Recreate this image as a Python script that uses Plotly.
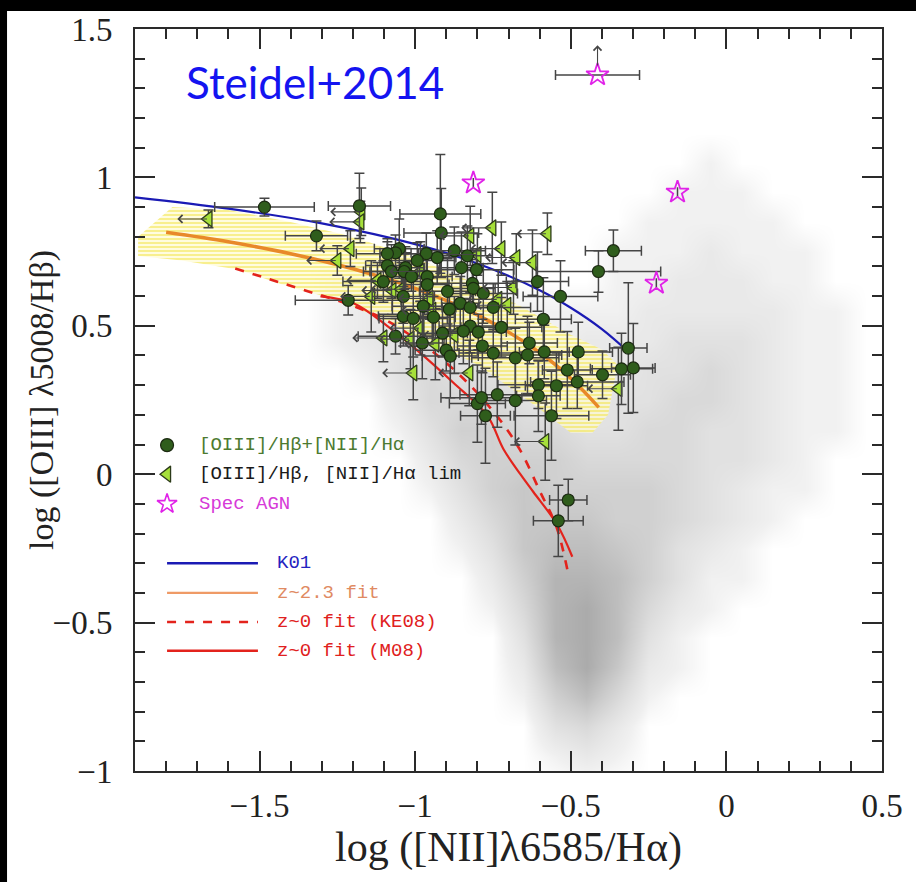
import plotly.graph_objects as go

# ---------------- data ----------------
# SDSS comparison sample, local point density on a 0.1-dex grid (cell centres)
SDSS_X = [-1.35, -1.25, -1.15, -1.05, -0.95, -0.85, -0.75, -0.65, -0.55, -0.45,
          -0.35, -0.25, -0.15, -0.05, 0.05, 0.15, 0.25, 0.35, 0.45, 0.55]
SDSS_Y = [-1.05, -0.95, -0.85, -0.75, -0.65, -0.55, -0.45, -0.35, -0.25, -0.15, -0.05,
          0.05, 0.15, 0.25, 0.35, 0.45, 0.55, 0.65, 0.75, 0.85, 0.95, 1.05, 1.15]
SDSS_DENSITY = [
    [0, 0, 0, 0, 0, 0, 0, 0, 0, 0, 0, 0, 0, 0, 0, 0, 0, 0, 0, 0],
    [0, 0, 0, 0, 0, 0, 0, 0, 1, 2, 1, 0, 0, 0, 0, 0, 0, 0, 0, 0],
    [0, 0, 0, 0, 0, 0, 0, 0, 3, 4, 2, 0, 0, 0, 0, 0, 0, 0, 0, 0],
    [0, 0, 0, 0, 0, 0, 0, 1, 5, 7, 4, 1, 0, 0, 0, 0, 0, 0, 0, 0],
    [0, 0, 0, 0, 0, 0, 0, 2, 7, 9, 6, 2, 1, 0, 0, 0, 0, 0, 0, 0],
    [0, 0, 0, 0, 0, 0, 0, 3, 8, 9, 7, 3, 1, 0, 0, 0, 0, 0, 0, 0],
    [0, 0, 0, 0, 0, 0, 1, 4, 8, 9, 7, 4, 2, 1, 0, 0, 0, 0, 0, 0],
    [0, 0, 0, 0, 0, 0, 2, 5, 8, 8, 7, 5, 3, 1, 1, 0, 0, 0, 0, 0],
    [0, 0, 0, 0, 0, 1, 3, 6, 7, 7, 6, 5, 3, 2, 1, 0, 0, 0, 0, 0],
    [0, 0, 0, 0, 0, 2, 4, 6, 6, 6, 5, 5, 4, 3, 2, 1, 0, 0, 0, 0],
    [0, 0, 0, 0, 1, 3, 5, 6, 5, 5, 5, 5, 4, 3, 2, 1, 1, 0, 0, 0],
    [0, 0, 0, 0, 2, 4, 5, 5, 5, 4, 4, 4, 4, 3, 3, 2, 1, 0, 0, 0],
    [0, 0, 0, 1, 3, 5, 5, 4, 4, 3, 3, 4, 4, 3, 3, 2, 1, 1, 0, 0],
    [0, 0, 0, 2, 4, 4, 4, 3, 2, 2, 3, 3, 4, 4, 3, 2, 1, 1, 0, 0],
    [0, 0, 1, 3, 4, 3, 3, 2, 2, 2, 2, 3, 3, 4, 3, 2, 1, 1, 0, 0],
    [0, 1, 2, 3, 3, 2, 2, 1, 1, 2, 2, 2, 3, 3, 3, 2, 1, 1, 0, 0],
    [0, 1, 2, 2, 2, 1, 1, 1, 1, 1, 1, 2, 2, 2, 2, 2, 1, 1, 0, 0],
    [0, 1, 1, 1, 1, 1, 0, 0, 0, 0, 1, 1, 2, 2, 2, 1, 1, 0, 0, 0],
    [0, 0, 0, 0, 0, 0, 0, 0, 0, 0, 1, 1, 1, 2, 1, 1, 1, 0, 0, 0],
    [0, 0, 0, 0, 0, 0, 0, 0, 0, 0, 0, 1, 1, 1, 1, 1, 0, 0, 0, 0],
    [0, 0, 0, 0, 0, 0, 0, 0, 0, 0, 0, 0, 1, 1, 1, 0, 0, 0, 0, 0],
    [0, 0, 0, 0, 0, 0, 0, 0, 0, 0, 0, 0, 0, 1, 0, 0, 0, 0, 0, 0],
    [0, 0, 0, 0, 0, 0, 0, 0, 0, 0, 0, 0, 0, 0, 0, 0, 0, 0, 0, 0],
]

# 1-sigma region of the z~2.3 fit
BAND_UPPER_X = [-1.89, -1.78, -1.60, -1.40, -1.20, -1.00, -0.80, -0.65, -0.50, -0.40, -0.35]
BAND_UPPER_Y = [0.80, 0.90, 0.89, 0.85, 0.80, 0.73, 0.64, 0.56, 0.47, 0.42, 0.37]
BAND_LOWER_X = [-0.38, -0.43, -0.50, -0.60, -0.80, -1.00, -1.24, -1.40, -1.57, -1.75, -1.89]
BAND_LOWER_Y = [0.20, 0.14, 0.14, 0.22, 0.37, 0.47, 0.585, 0.63, 0.69, 0.72, 0.735]

# model curves
K01_X = [-1.90, -1.60, -1.30, -1.00, -0.80, -0.60, -0.50, -0.40, -0.31]
K01_Y = [0.933, 0.895, 0.845, 0.775, 0.710, 0.620, 0.561, 0.489, 0.408]
Z23_X = [-1.80, -1.60, -1.40, -1.20, -1.00, -0.80, -0.60, -0.50, -0.41]
Z23_Y = [0.815, 0.783, 0.743, 0.692, 0.626, 0.537, 0.410, 0.323, 0.225]
KE08_X = [-1.578, -1.465, -1.353, -1.224, -1.112, -1.025, -0.919, -0.822, -0.726,
          -0.662, -0.598, -0.546, -0.511]
KE08_Y = [0.693, 0.656, 0.619, 0.576, 0.529, 0.475, 0.392, 0.298, 0.181,
          0.080, -0.060, -0.177, -0.321]
M08_X = [-1.304, -1.198, -1.089, -0.983, -0.877, -0.768, -0.716, -0.662, -0.620,
         -0.543, -0.495]
M08_Y = [0.599, 0.576, 0.499, 0.408, 0.308, 0.197, 0.084, 0.000, -0.060,
         -0.171, -0.278]

# galaxies with both [OIII]/Hb and [NII]/Ha measured
DET_X = [-1.484, -1.317, -1.215, -1.179, -0.919, -0.916, -0.874, -0.832, -0.803, -0.851,
         -0.929, -0.964, -0.993, -1.051, -1.063, -1.089, -1.089, -1.031, -1.035, -1.076,
         -1.012, -0.961, -0.961, -1.102, -1.038, -0.896, -0.816, -0.813, -0.781, -0.974,
         -0.890, -0.855, -0.823, -0.749, -1.038, -1.006, -0.941, -0.823, -0.845, -0.797,
         -0.723, -0.912, -1.063, -0.977, -0.900, -0.887, -0.784, -0.749, -0.678, -0.800,
         -0.736, -0.678, -0.774, -0.787, -0.363, -0.411, -0.607, -0.533, -0.588, -0.315,
         -0.299, -0.337, -0.398, -0.476, -0.511, -0.479, -0.546, -0.604, -0.604, -0.562,
         -0.585, -0.639, -0.633, -0.508, -0.540]
DET_Y = [0.900, 0.803, 0.586, 0.904, 0.877, 0.813, 0.753, 0.736, 0.689, 0.696,
         0.730, 0.743, 0.720, 0.760, 0.746, 0.743, 0.703, 0.696, 0.683, 0.683,
         0.666, 0.666, 0.639, 0.649, 0.599, 0.616, 0.643, 0.626, 0.609, 0.566,
         0.556, 0.576, 0.562, 0.562, 0.532, 0.525, 0.529, 0.499, 0.482, 0.479,
         0.495, 0.475, 0.465, 0.442, 0.418, 0.398, 0.432, 0.408, 0.392, 0.238,
         0.268, 0.248, 0.197, 0.258, 0.753, 0.683, 0.649, 0.599, 0.522, 0.425,
         0.358, 0.355, 0.335, 0.412, 0.351, 0.311, 0.298, 0.301, 0.264, 0.197,
         0.412, 0.402, 0.442, -0.087, -0.157]
DET_XERR = [0.16, 0.10, 0.17, 0.10, 0.13, 0.12, 0.10, 0.08, 0.12, 0.07,
            0.06, 0.09, 0.12, 0.08, 0.05, 0.10, 0.07, 0.06, 0.11, 0.09,
            0.06, 0.08, 0.07, 0.13, 0.10, 0.09, 0.14, 0.07, 0.11, 0.10,
            0.08, 0.06, 0.09, 0.12, 0.08, 0.11, 0.07, 0.10, 0.06, 0.09,
            0.13, 0.08, 0.12, 0.07, 0.10, 0.09, 0.08, 0.11, 0.14, 0.09,
            0.12, 0.10, 0.08, 0.13, 0.09, 0.20, 0.10, 0.12, 0.09, 0.06,
            0.07, 0.10, 0.09, 0.11, 0.08, 0.15, 0.10, 0.13, 0.07, 0.12,
            0.08, 0.11, 0.09, 0.06, 0.08]
DET_YERR = [0.03, 0.05, 0.05, 0.11, 0.20, 0.15, 0.08, 0.10, 0.07, 0.12,
            0.09, 0.07, 0.06, 0.10, 0.06, 0.05, 0.08, 0.07, 0.06, 0.09,
            0.05, 0.06, 0.10, 0.07, 0.09, 0.11, 0.08, 0.06, 0.10, 0.12,
            0.07, 0.09, 0.05, 0.08, 0.10, 0.13, 0.07, 0.09, 0.11, 0.06,
            0.10, 0.08, 0.06, 0.12, 0.07, 0.14, 0.09, 0.08, 0.10, 0.13,
            0.11, 0.15, 0.16, 0.09, 0.07, 0.07, 0.10, 0.12, 0.14, 0.22,
            0.15, 0.12, 0.08, 0.10, 0.13, 0.09, 0.11, 0.08, 0.12, 0.15,
            0.09, 0.13, 0.07, 0.07, 0.12]

# galaxies with an upper limit on [NII]/Ha
LIM_X = [-1.664, -1.250, -1.208, -1.173, -1.176, -0.823, -0.752, -0.723, -0.675, -0.623,
         -0.800, -0.983, -1.121, -1.073, -1.044, -1.141, -0.684, -0.733, -0.704, -0.954,
         -0.945, -0.983, -0.874, -1.102, -1.015, -0.935, -1.006, -0.826, -0.575, -0.347,
         -0.582]
LIM_Y = [0.860, 0.720, 0.760, 0.884, 0.850, 0.803, 0.830, 0.760, 0.730, 0.713,
         0.740, 0.683, 0.653, 0.619, 0.623, 0.599, 0.629, 0.589, 0.569, 0.592,
         0.552, 0.492, 0.469, 0.459, 0.455, 0.438, 0.341, 0.341, 0.810, 0.288,
         0.110]
LIM_YERR = [0.03, 0.05, 0.06, 0.08, 0.07, 0.10, 0.12, 0.09, 0.08, 0.11,
            0.07, 0.10, 0.06, 0.08, 0.09, 0.12, 0.09, 0.10, 0.08, 0.07,
            0.11, 0.09, 0.13, 0.08, 0.10, 0.12, 0.09, 0.11, 0.07, 0.14,
            0.13]

# spectroscopic AGN
AGN_X = [-0.414, -0.813, -0.157, -0.225]
AGN_Y = [1.345, 0.981, 0.950, 0.643]
AGN_XERR = [0.135, 0, 0, 0]

LIMIT_ARROW = 0.10        # length of the upper-limit arrows (dex)

# ---------------- styling ----------------
SERIF = "Liberation Serif"
MONO = "Liberation Mono"
AX_COL = "#2a2a2a"
ERR_COL = "#454545"
BLUE = "#1a1ab4"
ORANGE = "#e8892a"
RED = "#e3231c"
DARK_GREEN = "#2f5d1c"
LIGHT_GREEN = "#a6e03a"
MAGENTA = "#e022e8"

fig = go.Figure()

fig.add_trace(go.Heatmap(
    x=SDSS_X, y=SDSS_Y, z=SDSS_DENSITY, zmin=0, zmax=9, zsmooth="best",
    colorscale=[[0, "#ffffff"], [0.12, "#f0f0f0"], [0.35, "#e0e0e0"],
                [0.6, "#cdcdcd"], [1, "#ababab"]],
    showscale=False, hoverinfo="skip"))

fig.add_trace(go.Scatter(
    x=BAND_UPPER_X + BAND_LOWER_X, y=BAND_UPPER_Y + BAND_LOWER_Y,
    mode="lines", line=dict(width=0), fill="toself",
    fillcolor="rgba(255,248,170,0.6)",
    fillpattern=dict(shape="-", fgcolor="#f1e23e", bgcolor="rgba(255,251,210,0.7)",
                     size=4, solidity=0.5),
    hoverinfo="skip", showlegend=False))

fig.add_trace(go.Scatter(x=K01_X, y=K01_Y, mode="lines", line_shape="spline",
                         line=dict(color=BLUE, width=2.2), hoverinfo="skip"))
fig.add_trace(go.Scatter(x=Z23_X, y=Z23_Y, mode="lines", line_shape="spline",
                         line=dict(color=ORANGE, width=3.5), hoverinfo="skip"))
fig.add_trace(go.Scatter(x=KE08_X, y=KE08_Y, mode="lines", line_shape="spline",
                         line=dict(color=RED, width=2.6, dash="dash"), hoverinfo="skip"))
fig.add_trace(go.Scatter(x=M08_X, y=M08_Y, mode="lines", line_shape="spline",
                         line=dict(color=RED, width=2.2), hoverinfo="skip"))

err_style = dict(type="data", color=ERR_COL, thickness=1.5, width=5)

fig.add_trace(go.Scatter(
    x=LIM_X, y=LIM_Y, mode="markers",
    error_y=dict(array=LIM_YERR, **err_style),
    marker=dict(symbol="triangle-left", size=14, color=LIGHT_GREEN,
                line=dict(color="#2c3a1a", width=1.3)),
    hoverinfo="skip"))

fig.add_trace(go.Scatter(
    x=DET_X, y=DET_Y, mode="markers",
    error_x=dict(array=DET_XERR, **err_style),
    error_y=dict(array=DET_YERR, **err_style),
    marker=dict(symbol="circle", size=12, color=DARK_GREEN,
                line=dict(color="#1c2a12", width=1.2)),
    hoverinfo="skip"))

fig.add_trace(go.Scatter(
    x=AGN_X, y=AGN_Y, mode="markers",
    error_x=dict(array=AGN_XERR, **err_style),
    marker=dict(symbol="star-open", size=17, color=MAGENTA, line=dict(width=1.8)),
    hoverinfo="skip"))

annotations = []
# leftward arrows for the [NII]/Ha upper limits
for x, y in zip(LIM_X, LIM_Y):
    annotations.append(dict(
        x=x - LIMIT_ARROW, y=y, ax=x, ay=y, xref="x", yref="y", axref="x", ayref="y",
        text="", showarrow=True, arrowhead=4, arrowsize=1.4, arrowwidth=1.1,
        arrowcolor=ERR_COL, standoff=0, startstandoff=0))
# lower limit on [OIII]/Hb for the top AGN
annotations.append(dict(
    x=AGN_X[0], y=AGN_Y[0] + LIMIT_ARROW, ax=AGN_X[0], ay=AGN_Y[0],
    xref="x", yref="y", axref="x", ayref="y", text="", showarrow=True,
    arrowhead=4, arrowsize=1.4, arrowwidth=1.1, arrowcolor=ERR_COL,
    standoff=0, startstandoff=8))

# in-plot key
KEY_X = -1.797
KEY_TEXT_X = -1.70
fig.add_trace(go.Scatter(
    x=[KEY_X], y=[0.098], mode="markers", hoverinfo="skip",
    marker=dict(symbol="circle", size=13, color=DARK_GREEN,
                line=dict(color="#1c2a12", width=1.2))))
fig.add_trace(go.Scatter(
    x=[KEY_X], y=[0.0], mode="markers", hoverinfo="skip",
    marker=dict(symbol="triangle-left", size=14, color=LIGHT_GREEN,
                line=dict(color="#2c3a1a", width=1.3))))
fig.add_trace(go.Scatter(
    x=[KEY_X], y=[-0.10], mode="markers", hoverinfo="skip",
    marker=dict(symbol="star-open", size=15, color=MAGENTA, line=dict(width=1.6))))

marker_keys = [("[OIII]/Hβ+[NII]/Hα", 0.098, "#4c7a30"),
               ("[OIII]/Hβ, [NII]/Hα lim", 0.0, "#1a1a1a"),
               ("Spec AGN", -0.10, "#d63ad8")]
for txt, y, col in marker_keys:
    annotations.append(dict(x=KEY_TEXT_X, y=y, xref="x", yref="y", text=txt,
                            showarrow=False, xanchor="left", yanchor="middle",
                            font=dict(family=MONO, size=19, color=col)))

line_keys = [("K01", -0.30, BLUE, "solid", "#2323c0"),
             ("z~2.3 fit", -0.40, "#ef9a66", "solid", "#e08a62"),
             ("z~0 fit (KE08)", -0.498, RED, "dash", "#e02020"),
             ("z~0 fit (M08)", -0.595, RED, "solid", "#e02020")]
for txt, y, col, dash, tcol in line_keys:
    fig.add_trace(go.Scatter(x=[KEY_X, -1.505], y=[y, y], mode="lines",
                             line=dict(color=col, width=2.4, dash=dash),
                             hoverinfo="skip"))
    annotations.append(dict(x=-1.45, y=y, xref="x", yref="y", text=txt,
                            showarrow=False, xanchor="left", yanchor="middle",
                            font=dict(family=MONO, size=19, color=tcol)))

annotations.append(dict(x=-1.741, y=1.32, xref="x", yref="y", text="Steidel+2014",
                        showarrow=False, xanchor="left", yanchor="middle",
                        font=dict(family="Lato", size=44, color="#1414f0")))

# y-axis title, set as rotated text beside the tick labels
annotations.append(dict(x=-0.1245, y=0.5, xref="paper", yref="paper",
                        text="log ([OIII] λ5008/Hβ)", textangle=-90, showarrow=False,
                        xanchor="center", yanchor="middle",
                        font=dict(family=SERIF, size=34, color="#222")))

axis_common = dict(
    showgrid=False, zeroline=False, showline=True, linecolor=AX_COL, linewidth=2,
    mirror="ticks", ticks="inside", ticklen=20, tickwidth=1.6, tickcolor=AX_COL,
    minor=dict(dtick=0.1, ticks="inside", ticklen=10, tickwidth=1.6, tickcolor=AX_COL),
    tickfont=dict(family=SERIF, size=33, color="#222"),
    dtick=0.5, tick0=0,
)

fig.update_layout(
    width=916, height=882,
    margin=dict(l=135, r=34, t=24, b=111),
    paper_bgcolor="white", plot_bgcolor="white",
    showlegend=False,
    xaxis=dict(range=[-1.9, 0.5],
               title=dict(text="log ([NII]λ6585/Hα)", standoff=8,
                          font=dict(family=SERIF, size=42, color="#222")),
               ticklabelstandoff=4, **axis_common),
    yaxis=dict(range=[-1.0, 1.5], ticklabelstandoff=14, **axis_common),
    annotations=annotations,
    shapes=[
        dict(type="rect", xref="paper", yref="paper", x0=-0.19, x1=-0.1713,
             y0=-0.2, y1=1.04, fillcolor="black", line_width=0, layer="above"),
        dict(type="rect", xref="paper", yref="paper", x0=-0.19, x1=1.1,
             y0=1.0241, y1=1.04, fillcolor="black", line_width=0, layer="above"),
    ],
)

fig.write_html("out.html")
